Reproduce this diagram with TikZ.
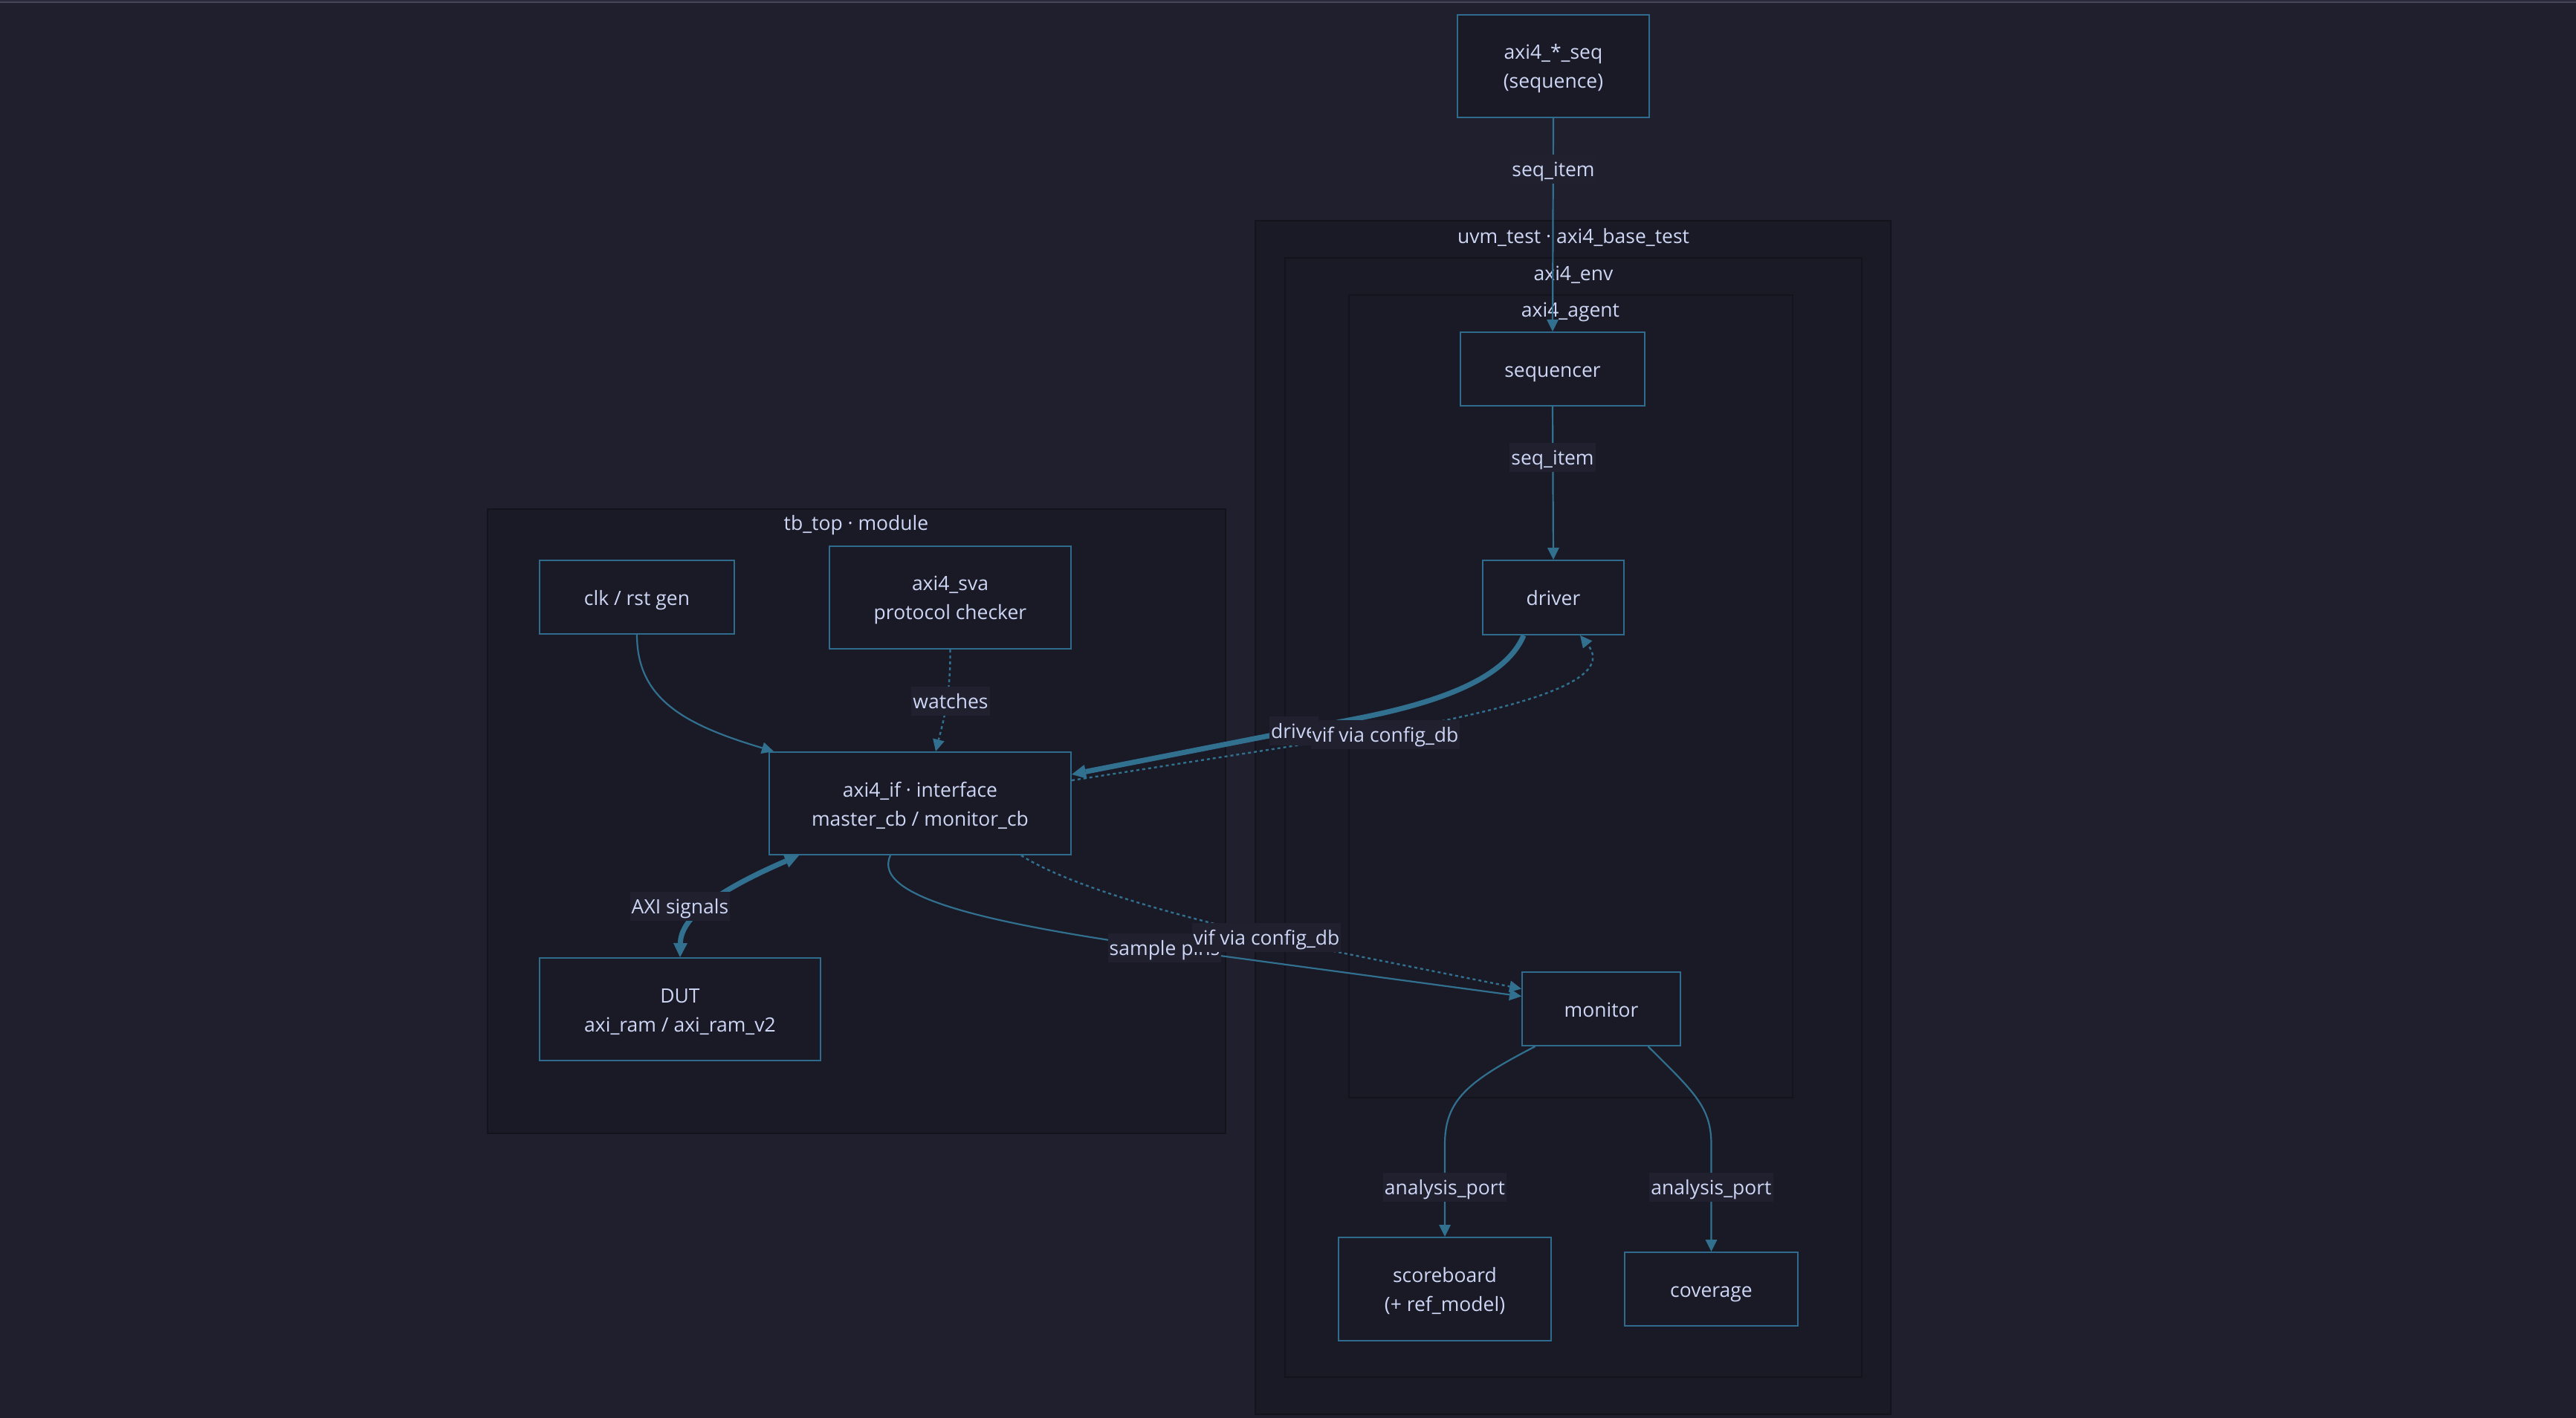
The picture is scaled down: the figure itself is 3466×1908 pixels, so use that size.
\documentclass[tikz,border=0pt]{standalone}
\usepackage{fontspec}
\setmainfont{Open Sans}
\usetikzlibrary{arrows.meta,calc}
\definecolor{bg}{HTML}{1F1F2E}
\definecolor{clfill}{HTML}{1A1A26}
\definecolor{clborder}{HTML}{13131C}
\definecolor{ndfill}{HTML}{1A1A26}
\definecolor{ndborder}{HTML}{2F6B8C}
\definecolor{edgec}{HTML}{31708F}
\definecolor{txt}{HTML}{CDD6F4}
\definecolor{lblbg}{HTML}{20202F}
\definecolor{topline}{HTML}{45455A}
\definecolor{toptop}{HTML}{2A2A3A}
\newcommand{\mystrut}{\rule{0pt}{26pt}}
\begin{document}
\begin{tikzpicture}[x=1pt,y=-1pt,
  every node/.style={font=\fontsize{26.5}{39}\selectfont, text=txt},
  multibox/.style={draw=ndborder, fill=ndfill, line width=2pt, align=center, inner sep=0pt},
  nodebox/.style={multibox, text height=27pt, text depth=6pt},
  clusterbox/.style={draw=clborder, fill=clfill, line width=2pt},
  clabel/.style={inner sep=0pt},
  elabel/.style={fill=lblbg, inner xsep=2pt, inner ysep=0pt, minimum height=39pt, text height=26pt, text depth=6pt},
  tipA/.tip={Triangle[length=16pt,width=16pt,line width=0pt]},
  tipB/.tip={Triangle[length=19pt,width=19pt,line width=0pt]},
  thinedge/.style={draw=edgec, line width=2.2pt, -tipA},
  thickedge/.style={draw=edgec, line width=7pt, -tipB},
  dotedge/.style={draw=edgec, line width=2.4pt, dash pattern=on 4pt off 4pt, -tipA}
]
\useasboundingbox (0,0) rectangle (3466,1908);
\fill[bg] (0,0) rectangle (3466,1908);
\fill[toptop] (0,0) rectangle (3466,2);
\fill[topline] (0,2) rectangle (3466,4);

% clusters
\draw[clusterbox] (1689,297) rectangle (2544,1903);
\draw[clusterbox] (1729,347) rectangle (2505,1853);
\draw[clusterbox] (1815,397) rectangle (2412,1477);
\draw[clusterbox] (656,685) rectangle (1649,1525);
\node[clabel] (cuvm) at (2117,319) {uvm\_test · axi4\_base\_test};
\node[clabel] (cenv) at (2117,370) {axi4\_env};
\node[clabel] (cagt) at (2113,420) {axi4\_agent};
\node[clabel] (ctb) at (1152,707) {tb\_top · module};

% nodes
\node[multibox, minimum width=258pt, minimum height=138pt] (seq) at (2090,89) {\mystrut axi4\_*\_seq\\(sequence)};
\node[nodebox, minimum width=248pt, minimum height=99pt] (seqr) at (2089,496.5) {sequencer};
\node[nodebox, minimum width=190pt, minimum height=100pt] (drv) at (2090,804) {driver};
\node[nodebox, minimum width=213pt, minimum height=99pt] (mon) at (2154.5,1357.5) {monitor};
\node[multibox, minimum width=286pt, minimum height=139pt] (sb) at (1944,1734.5) {\mystrut scoreboard\\(+ ref\_model)};
\node[nodebox, minimum width=233pt, minimum height=99pt] (cov) at (2302.5,1734.5) {coverage};
\node[nodebox, minimum width=262pt, minimum height=99pt] (clk) at (857,803.5) {clk / rst gen};
\node[multibox, minimum width=325pt, minimum height=138pt] (sva) at (1278.5,804) {\mystrut axi4\_sva\\protocol checker};
\node[multibox, minimum width=406pt, minimum height=138pt] (aif) at (1238,1081) {\mystrut axi4\_if · interface\\master\_cb / monitor\_cb};
\node[multibox, minimum width=378pt, minimum height=138pt] (dut) at (915,1358) {\mystrut DUT\\axi\_ram / axi\_ram\_v2};

% edges
\draw[thinedge] (seq.south) -- (seqr.north);
\draw[thinedge] (seqr.north |- seqr.south) -- (drv.north);
\draw[thinedge] (clk.south) .. controls (857,940) and (920,975) .. ($(aif.north west)+(7,0)$);
\draw[dotedge] (sva.south) .. controls (1279,940) and (1268,975) .. ($(aif.north)+(21,0)$);
\draw[thickedge] ($(drv.south)+(-40,0)$) .. controls (2025,915) and (1930,946) .. (1830,966) -- ($(aif.east)+(0,-39)$);
\draw[dotedge] ($(aif.east)+(0,-31)$) -- (1880,982) .. controls (2050,950) and (2175,915) .. ($(drv.south)+(36,0)$);
\draw[thickedge, tipB-tipB] (dut.north) .. controls (916,1240) and (950,1205) .. ($(aif.south west)+(41,0)$);
\draw[thinedge] ($(aif.south)+(-40,0)$) .. controls (1170,1210) and (1350,1245) .. (1560,1275) -- ($(mon.west)+(0,-17)$);
\draw[dotedge] ($(aif.south)+(136,0)$) .. controls (1450,1200) and (1650,1250) .. (1795,1280) -- ($(mon.west)+(0,-27)$);
\draw[thinedge] ($(mon.south)+(-89,0)$) .. controls (1975,1455) and (1944,1480) .. (1944,1540) -- (sb.north);
\draw[thinedge] ($(mon.south)+(63,0)$) .. controls (2280,1470) and (2302.5,1490) .. (2302.5,1540) -- (cov.north);

% edge labels
\node[elabel] (l1) at (2090,227) {seq\_item};
\node[elabel] (l2) at (2089,615) {seq\_item};
\node[elabel] (l3) at (1279,943) {watches};
\node[elabel] (l4) at (915,1219) {AXI signals};
\node[elabel] (l5) at (1741,983) {drive};
\node[elabel] (l6) at (1864,988) {vif via config\_db};
\node[elabel] (l7) at (1567,1275) {sample pins};
\node[elabel] (l8) at (1704,1261) {vif via config\_db};
\node[elabel] (l9) at (1944,1597) {analysis\_port};
\node[elabel] (l10) at (2302.5,1597) {analysis\_port};
\end{tikzpicture}
\end{document}
